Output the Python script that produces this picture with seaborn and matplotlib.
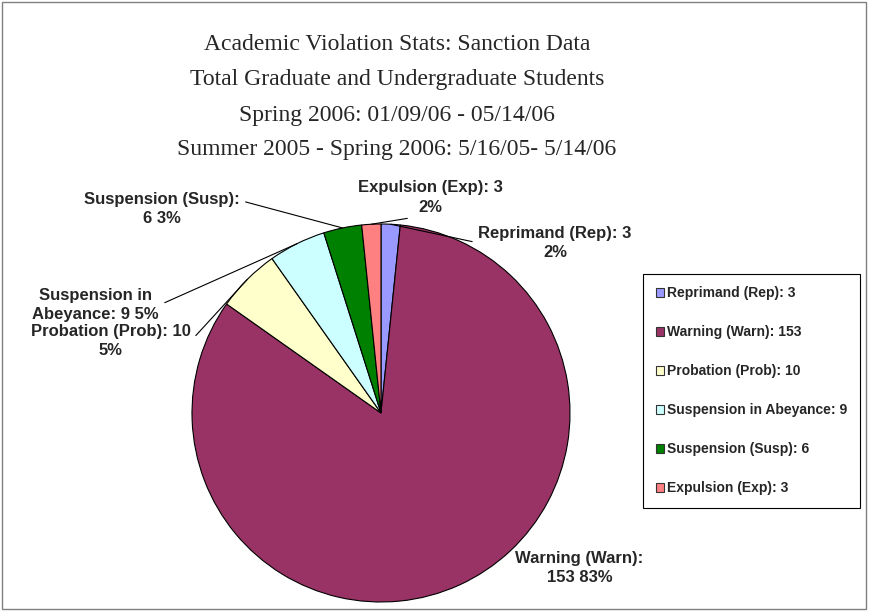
import numpy as np
import matplotlib
matplotlib.use("Agg")
import matplotlib.pyplot as plt
import matplotlib.patches as mpatches
import seaborn as sns

# Data
categories = ["Reprimand (Rep)", "Warning (Warn)", "Probation (Prob)",
              "Suspension in Abeyance", "Suspension (Susp)", "Expulsion (Exp)"]
counts = [3, 153, 10, 9, 6, 3]
slice_labels = ["Reprimand (Rep): 3\n2%", "Warning (Warn):\n153 83%",
                "Probation (Prob): 10\n5%", "Suspension in\nAbeyance: 9 5%",
                "Suspension (Susp):\n6 3%", "Expulsion (Exp): 3\n2%"]
title_lines = ["Academic Violation Stats: Sanction Data",
               "Total Graduate and Undergraduate Students",
               "Spring 2006: 01/09/06 - 05/14/06",
               "Summer 2005 - Spring 2006: 5/16/05- 5/14/06"]

sns.set_style("white")
plt.rcParams['font.family'] = ['Liberation Sans', 'DejaVu Sans']
colors = sns.color_palette(["#9999FF", "#993366", "#FFFFCC",
                            "#CCFFFF", "#008000", "#FF8080"])

W, H = 869, 611
cx, cy, r = 381, 413, 189
fig = plt.figure(figsize=(W / 100, H / 100), dpi=100)
ax = fig.add_axes([0, 0, 1, 1])

wedges, _ = ax.pie(counts, colors=colors, startangle=90, counterclock=False,
                   radius=1.0, wedgeprops=dict(edgecolor='black', linewidth=0.8))
ax.set_xlim(-cx / r, (W - cx) / r)
ax.set_ylim(-(H - cy) / r, cy / r)
ax.set_aspect('equal')
ax.axis('off')

# label placement (data units, radius = 1)
label_pos = [(0.92, 0.90), (1.05, -0.82), (-1.43, 0.38),
             (-1.51, 0.57), (-1.16, 1.08), (0.26, 1.14)]
relpos = [(0, 0.5), None, (1, 0.5), (1, 0.5), (1, 0.75), (0.5, 0)]
for w, lab, pos, rp in zip(wedges, slice_labels, label_pos, relpos):
    ang = np.deg2rad((w.theta1 + w.theta2) / 2)
    edge = (np.cos(ang), np.sin(ang))
    if rp is None:
        ax.text(pos[0], pos[1], lab, ha='center', va='center', fontsize=12,
                fontweight='bold', linespacing=1.35)
    else:
        ax.annotate(lab, xy=edge, xytext=pos, ha='center', va='center',
                    fontsize=12, fontweight='bold', linespacing=1.35,
                    arrowprops=dict(arrowstyle='-', color='black', lw=0.8,
                                    relpos=rp, shrinkA=2, shrinkB=0))

# title lines
for i, line in enumerate(title_lines):
    fig.text(397 / W, 1 - (45 + 35 * i) / H, line, ha='center', va='center',
             fontsize=17, family='Liberation Serif')

# legend
leg_labels = [f"{c}: {n}" for c, n in zip(categories, counts)]
handles = [mpatches.Patch(facecolor=c, edgecolor='#333333', lw=0.8) for c in colors]
leg = fig.legend(handles, leg_labels, loc='upper left',
                 bbox_to_anchor=(643 / W, 1 - 274 / H), frameon=True,
                 fancybox=False, edgecolor='black', framealpha=1,
                 prop=dict(weight='bold', size=10), labelspacing=1.8,
                 handlelength=0.6, handleheight=0.6, handletextpad=0.25,
                 borderpad=0.9, borderaxespad=0)
leg.get_frame().set_linewidth(0.8)

# outer border
fig.patches.append(mpatches.Rectangle((0.002, 0.003), 0.995, 0.994,
                                      transform=fig.transFigure, fill=False,
                                      edgecolor='#808080', lw=1))

fig.savefig("out.png", dpi=100)
